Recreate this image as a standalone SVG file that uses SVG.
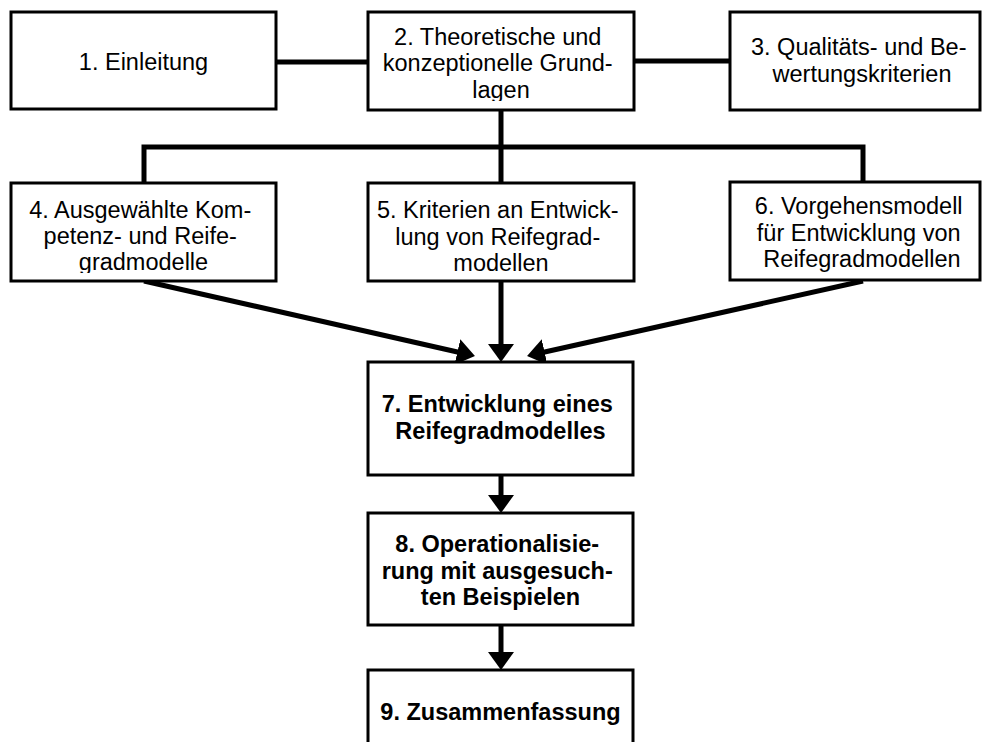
<svg xmlns="http://www.w3.org/2000/svg" width="982" height="742" viewBox="0 0 982 742">
  <style>
    .box { fill: #ffffff; stroke: #000000; stroke-width: 3; }
    .lbl { font-family: "Liberation Sans", Arial, sans-serif; font-size: 23.5px; fill: #000000; text-anchor: middle; }
    .bold { font-weight: bold; }
    .wire { fill: none; stroke: #000000; stroke-width: 5; stroke-linejoin: miter; }
    .arrow { fill: none; stroke: #000000; stroke-width: 5; marker-end: url(#head); }
  </style>
  <defs>
    <marker id="head" viewBox="0 0 18 26" refX="8" refY="13" markerWidth="18" markerHeight="26" markerUnits="userSpaceOnUse" orient="auto">
      <path d="M0,0 L18,13 L0,26 Z" fill="#000000"/>
    </marker>
    <!-- the text frames cut off descenders of the last line -->
    <clipPath id="clip2"><rect x="368" y="12" width="266" height="89"/></clipPath>
    <clipPath id="clip4"><rect x="11" y="183" width="265" height="90"/></clipPath>
    <clipPath id="clip6"><rect x="730" y="182" width="250" height="90"/></clipPath>
  </defs>

  <rect width="982" height="742" fill="#ffffff"/>

  <g id="connectors">
    <line class="wire" x1="276" y1="62" x2="368" y2="62"/>
    <line class="wire" x1="634" y1="61" x2="730" y2="61"/>
    <line class="wire" x1="501" y1="110" x2="501" y2="183"/>
    <polyline class="wire" points="144,183 144,147 863,147 863,182"/>
    <line class="arrow" x1="144" y1="281" x2="465.2" y2="353.8"/>
    <line class="arrow" x1="501" y1="282" x2="501" y2="352"/>
    <line class="arrow" x1="863" y1="281" x2="536.8" y2="353.8"/>
    <line class="arrow" x1="501" y1="475" x2="501" y2="503"/>
    <line class="arrow" x1="501" y1="625" x2="501" y2="660"/>
  </g>

  <g id="node1">
    <rect class="box" x="11" y="12" width="265" height="97"/>
    <text class="lbl" x="143.5" y="70">1. Einleitung</text>
  </g>

  <g id="node2">
    <rect class="box" x="368" y="12" width="266" height="98"/>
    <text class="lbl" clip-path="url(#clip2)">
      <tspan x="501" y="44.5">2. Theoretische und</tspan>
      <tspan x="501" y="71">konzeptionelle Grund-</tspan>
      <tspan x="501" y="97.5">lagen</tspan>
    </text>
  </g>

  <g id="node3">
    <rect class="box" x="730" y="12" width="250" height="98"/>
    <text class="lbl">
      <tspan x="862" y="55">3. Qualitäts- und Be-</tspan>
      <tspan x="862" y="81.5">wertungskriterien</tspan>
    </text>
  </g>

  <g id="node4">
    <rect class="box" x="11" y="183" width="265" height="98"/>
    <text class="lbl" clip-path="url(#clip4)">
      <tspan x="143.5" y="218">4. Ausgewählte Kom-</tspan>
      <tspan x="143.5" y="244">petenz- und Reife-</tspan>
      <tspan x="143.5" y="270">gradmodelle</tspan>
    </text>
  </g>

  <g id="node5">
    <rect class="box" x="368" y="183" width="266" height="98"/>
    <text class="lbl">
      <tspan x="501" y="218">5. Kriterien an Entwick-</tspan>
      <tspan x="501" y="244.5">lung von Reifegrad-</tspan>
      <tspan x="501" y="271">modellen</tspan>
    </text>
  </g>

  <g id="node6">
    <rect class="box" x="730" y="182" width="250" height="98"/>
    <text class="lbl" clip-path="url(#clip6)">
      <tspan x="862" y="214">6. Vorgehensmodell</tspan>
      <tspan x="862" y="240.5">für Entwicklung von</tspan>
      <tspan x="862" y="267">Reifegradmodellen</tspan>
    </text>
  </g>

  <g id="node7">
    <rect class="box" x="368" y="362" width="265" height="113"/>
    <text class="lbl bold">
      <tspan x="500.5" y="412">7. Entwicklung eines</tspan>
      <tspan x="500.5" y="439">Reifegradmodelles</tspan>
    </text>
  </g>

  <g id="node8">
    <rect class="box" x="368" y="513" width="265" height="112"/>
    <text class="lbl bold">
      <tspan x="500.5" y="552">8. Operationalisie-</tspan>
      <tspan x="500.5" y="578.5">rung mit ausgesuch-</tspan>
      <tspan x="500.5" y="605">ten Beispielen</tspan>
    </text>
  </g>

  <g id="node9">
    <rect class="box" x="368" y="670" width="265" height="100"/>
    <text class="lbl bold" x="500.5" y="720">9. Zusammenfassung</text>
  </g>
</svg>
